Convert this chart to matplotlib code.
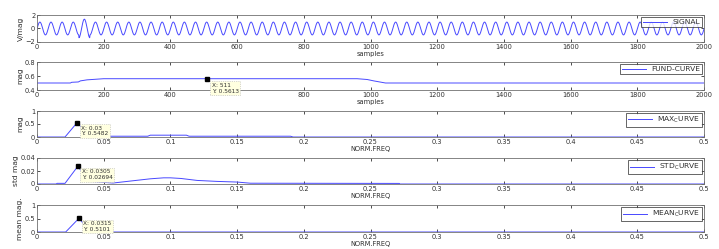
import numpy as np
import matplotlib.pyplot as plt

# ---- data ----
sig_freq = 0.03            # cycles / sample of the test signal
sig_amp = 0.95
sig_burst_at = 142         # one higher crest near this sample
sig_burst_amp = 1.38
n_samples = 2001

fund_x = [0, 100, 104, 124, 130, 150, 200, 960, 990, 1010, 1045, 2000]
fund_y = [0.50, 0.50, 0.51, 0.515, 0.53, 0.545, 0.5613, 0.5613, 0.55, 0.53, 0.50, 0.50]

max_f = [0, 0.021, 0.03, 0.04, 0.05, 0.083, 0.085, 0.112, 0.114, 0.19, 0.192, 0.5]
max_y = [0, 0, 0.5482, 0.03, 0.03, 0.03, 0.07, 0.07, 0.03, 0.03, 0, 0]

std_f = [0, 0.0145, 0.015, 0.021, 0.0305, 0.04, 0.057, 0.072, 0.085, 0.095, 0.1,
         0.108, 0.12, 0.135, 0.15, 0.16, 0.2716, 0.272, 0.5]
std_y = [0, 0, 0.001, 0.001, 0.02694, 0.004, 0.0015, 0.005, 0.008, 0.0095, 0.0095,
         0.0085, 0.0055, 0.004, 0.003, 0.0012, 0.0009, 0, 0]

mean_f = [0, 0.0215, 0.0315, 0.04, 0.5]
mean_y = [0, 0, 0.5101, 0, 0]

tips = [(511, 0.5613, 'X: 511\nY: 0.5613'),
        (0.03, 0.5482, 'X: 0.03\nY: 0.5482'),
        (0.0305, 0.02694, 'X: 0.0305\nY: 0.02694'),
        (0.0315, 0.5101, 'X: 0.0315\nY: 0.5101')]

W, H = 719, 249
fig = plt.figure(figsize=(W / 100, H / 100), dpi=100)
plt.rcParams['font.family'] = 'DejaVu Sans'

blue = '#4848ff'
fs = 4.8


def box(top, bottom):
    left, right = 37, 704
    return [left / W, 1 - bottom / H, (right - left) / W, (bottom - top) / H]


def style(ax, xlabel, ylabel):
    for s in ax.spines.values():
        s.set_color('#707070')
        s.set_linewidth(0.6)
    ax.tick_params(direction='in', length=2.5, width=0.6, labelsize=fs,
                   top=True, right=True, colors='#303030', pad=1.2)
    ax.set_xlabel(xlabel, fontsize=fs, labelpad=1, color='#303030')
    ax.set_ylabel(ylabel, fontsize=5.4, labelpad=1, color='#303030')


def legend(ax, line, label):
    leg = ax.legend([line], [label], loc='upper right', fontsize=5.4,
                    frameon=True, fancybox=False, borderpad=0.25,
                    handlelength=3.2, handletextpad=0.7, borderaxespad=0.3)
    leg.get_frame().set_edgecolor('#202020')
    leg.get_frame().set_linewidth(0.6)
    for t in leg.get_texts():
        t.set_color('#303030')


def datatip(ax, x, y, text, dx, dy):
    ax.plot([x], [y], marker='s', color='black', ms=3.2, zorder=5)
    ax.annotate(text, (x, y), xytext=(dx, dy), textcoords='offset points',
                fontsize=fs - 0.6, va='top', ha='left', color='#303030',
                bbox=dict(boxstyle='square,pad=0.25', fc='#ffffe0',
                          ec='#b0b0b0', lw=0.5, ls=':'), zorder=6)


# panel 1: signal
n = np.arange(n_samples)
amp = np.full(n_samples, sig_amp)
period = 1 / sig_freq
amp[np.abs(n - sig_burst_at) < period / 2] = sig_burst_amp
signal = amp * np.sin(2 * np.pi * sig_freq * (n - sig_burst_at) + np.pi / 2)

ax1 = fig.add_axes(box(15, 42))
l1, = ax1.plot(n, signal, color=blue, lw=0.7)
ax1.set_xlim(0, 2000)
ax1.set_ylim(-2, 2)
ax1.set_yticks([-2, 0, 2])
ax1.set_xticks(range(0, 2001, 200))
style(ax1, 'samples', 'V/mag')
legend(ax1, l1, 'SIGNAL')

# panel 2: fundamental curve
ax2 = fig.add_axes(box(62, 90))
l2, = ax2.plot(fund_x, fund_y, color=blue, lw=0.7)
ax2.set_xlim(0, 2000)
ax2.set_ylim(0.4, 0.8)
ax2.set_yticks([0.4, 0.6, 0.8])
ticks2 = list(range(0, 2001, 200))
ax2.set_xticks(ticks2)
# the data tip box covers the 600 label in the original
ax2.set_xticklabels(['' if t == 600 else str(t) for t in ticks2])
style(ax2, 'samples', 'mag')
legend(ax2, l2, 'FUND-CURVE')
datatip(ax2, *tips[0], 3, -3)

freq_panels = [
    ((111, 137), max_f, max_y, (0, 1), [0, 0.5, 1], 'mag',
     r'MAX$_\mathregular{C}$URVE', tips[1]),
    ((158, 184), std_f, std_y, (0, 0.04), [0, 0.02, 0.04], 'std mag',
     r'STD$_\mathregular{C}$URVE', tips[2]),
    ((205, 232), mean_f, mean_y, (0, 1), [0, 0.5, 1], 'mean mag.',
     r'MEAN$_\mathregular{C}$URVE', tips[3]),
]
xt = np.arange(0, 0.501, 0.05).round(2)
for (top, bottom), fx, fy, ylim, yt, ylab, lab, tip in freq_panels:
    ax = fig.add_axes(box(top, bottom))
    ln, = ax.plot(fx, fy, color=blue, lw=0.7)
    ax.set_xlim(0, 0.5)
    ax.set_ylim(*ylim)
    ax.set_yticks(yt)
    ax.set_yticklabels([f'{v:g}' for v in yt])
    ax.set_xticks(xt)
    ax.set_xticklabels([f'{v:g}' for v in xt])
    style(ax, 'NORM.FREQ', ylab)
    legend(ax, ln, lab)
    datatip(ax, *tip, 3, -2)

fig.savefig('out.png', dpi=100, facecolor='white')
